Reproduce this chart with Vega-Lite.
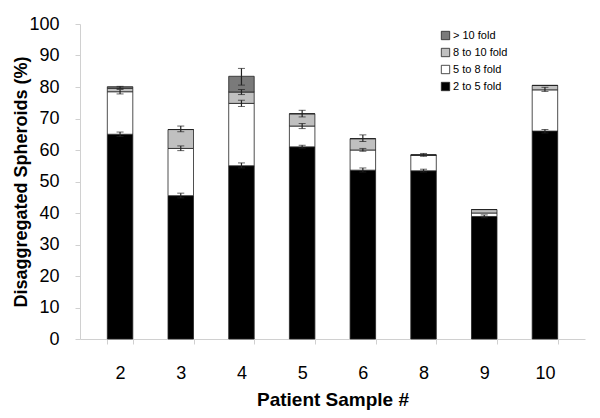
{
  "$schema": "https://vega.github.io/schema/vega-lite/v6.json",
  "width": 505,
  "height": 315,
  "autosize": {"type": "none"},
  "padding": {"left": 80, "top": 24, "right": 15, "bottom": 79},
  "background": "white",
  "config": {
    "view": {"stroke": null},
    "font": "Liberation Sans",
    "axisY": {
      "titleFontSize": 18,
      "titleFontWeight": "bold",
      "titleColor": "black",
      "titlePadding": -2,
      "labelFontSize": 18,
      "labelColor": "black",
      "labelPadding": 16,
      "labelOverlap": false,
      "values": [0, 10, 20, 30, 40, 50, 60, 70, 80, 90, 100],
      "grid": false,
      "domainColor": "#d0d0d0",
      "tickColor": "#d0d0d0",
      "tickSize": 5
    }
  },
  "datasets": {
    "bars": [
      {"patient": "2", "fold": "2 to 5 fold", "value": 65},
      {"patient": "2", "fold": "5 to 8 fold", "value": 13.5},
      {"patient": "2", "fold": "8 to 10 fold", "value": 1.1},
      {"patient": "2", "fold": "> 10 fold", "value": 0.5},
      {"patient": "3", "fold": "2 to 5 fold", "value": 45.5},
      {"patient": "3", "fold": "5 to 8 fold", "value": 15},
      {"patient": "3", "fold": "8 to 10 fold", "value": 6},
      {"patient": "3", "fold": "> 10 fold", "value": 0},
      {"patient": "4", "fold": "2 to 5 fold", "value": 55},
      {"patient": "4", "fold": "5 to 8 fold", "value": 19.8},
      {"patient": "4", "fold": "8 to 10 fold", "value": 3.6},
      {"patient": "4", "fold": "> 10 fold", "value": 5},
      {"patient": "5", "fold": "2 to 5 fold", "value": 61},
      {"patient": "5", "fold": "5 to 8 fold", "value": 6.6},
      {"patient": "5", "fold": "8 to 10 fold", "value": 3.9},
      {"patient": "5", "fold": "> 10 fold", "value": 0},
      {"patient": "6", "fold": "2 to 5 fold", "value": 53.6},
      {"patient": "6", "fold": "5 to 8 fold", "value": 6.4},
      {"patient": "6", "fold": "8 to 10 fold", "value": 3.6},
      {"patient": "6", "fold": "> 10 fold", "value": 0},
      {"patient": "8", "fold": "2 to 5 fold", "value": 53.4},
      {"patient": "8", "fold": "5 to 8 fold", "value": 5},
      {"patient": "8", "fold": "8 to 10 fold", "value": 0},
      {"patient": "8", "fold": "> 10 fold", "value": 0},
      {"patient": "9", "fold": "2 to 5 fold", "value": 38.9},
      {"patient": "9", "fold": "5 to 8 fold", "value": 1.1},
      {"patient": "9", "fold": "8 to 10 fold", "value": 1.1},
      {"patient": "9", "fold": "> 10 fold", "value": 0},
      {"patient": "10", "fold": "2 to 5 fold", "value": 66},
      {"patient": "10", "fold": "5 to 8 fold", "value": 13.1},
      {"patient": "10", "fold": "8 to 10 fold", "value": 1.4},
      {"patient": "10", "fold": "> 10 fold", "value": 0}
    ],
    "errors": [
      {"patient": "2", "lo": 64.3, "hi": 65.7},
      {"patient": "2", "lo": 77.8, "hi": 79.2},
      {"patient": "2", "lo": 79.6, "hi": 80.2},
      {"patient": "3", "lo": 44.8, "hi": 46.3},
      {"patient": "3", "lo": 59.8, "hi": 61.3},
      {"patient": "3", "lo": 65.8, "hi": 67.6},
      {"patient": "4", "lo": 54.3, "hi": 55.9},
      {"patient": "4", "lo": 73.8, "hi": 75.8},
      {"patient": "4", "lo": 77.6, "hi": 79.2},
      {"patient": "4", "lo": 80.6, "hi": 85.9},
      {"patient": "5", "lo": 60.6, "hi": 61.5},
      {"patient": "5", "lo": 66.8, "hi": 68.4},
      {"patient": "5", "lo": 70.5, "hi": 72.6},
      {"patient": "6", "lo": 53, "hi": 54.3},
      {"patient": "6", "lo": 59.6, "hi": 60.5},
      {"patient": "6", "lo": 62.7, "hi": 64.8},
      {"patient": "8", "lo": 53, "hi": 53.9},
      {"patient": "8", "lo": 58, "hi": 58.9},
      {"patient": "9", "lo": 38.5, "hi": 39.4},
      {"patient": "10", "lo": 65.4, "hi": 66.5},
      {"patient": "10", "lo": 78.6, "hi": 79.9}
    ]
  },
  "encoding": {
    "x": {
      "field": "patient",
      "type": "ordinal",
      "sort": ["2", "3", "4", "5", "6", "8", "9", "10"],
      "scale": {"paddingInner": 0.58, "paddingOuter": 0.45},
      "axis": {
        "title": "Patient Sample #",
        "titleFontSize": 19,
        "titleFontWeight": "bold",
        "titleColor": "black",
        "titlePadding": 8,
        "labelFontSize": 18,
        "labelColor": "black",
        "labelAngle": 0,
        "labelPadding": 20,
        "domainColor": "#d0d0d0",
        "tickColor": "#d0d0d0",
        "tickBand": "extent",
        "tickSize": 5
      }
    }
  },
  "layer": [
    {
      "data": {"name": "bars"},
      "mark": {"type": "bar", "stroke": "#222", "strokeWidth": 0.8},
      "encoding": {
        "y": {
          "field": "value",
          "type": "quantitative",
          "stack": "zero",
          "title": "Disaggregated Spheroids (%)",
          "scale": {"domain": [0, 100], "nice": false}
        },
        "color": {
          "field": "fold",
          "type": "nominal",
          "scale": {
            "domain": ["> 10 fold", "8 to 10 fold", "5 to 8 fold", "2 to 5 fold"],
            "range": ["#7a7a7a", "#c0c0c0", "#ffffff", "#000000"]
          },
          "legend": {
            "title": null,
            "orient": "none",
            "legendX": 360,
            "legendY": 6,
            "labelFontSize": 11,
            "labelColor": "black",
            "symbolType": "square",
            "symbolSize": 70,
            "symbolStrokeColor": "#222",
            "symbolStrokeWidth": 0.8,
            "labelOffset": 2,
            "rowPadding": 4
          }
        },
        "order": {"field": "fold", "sort": "ascending"}
      }
    },
    {
      "data": {"name": "errors"},
      "mark": {"type": "errorbar", "ticks": {"size": 7, "color": "#222"}, "rule": {"color": "#222", "strokeWidth": 1.2}},
      "encoding": {
        "y": {"field": "lo", "type": "quantitative", "title": "Disaggregated Spheroids (%)", "scale": {"domain": [0, 100], "nice": false}},
        "y2": {"field": "hi"}
      }
    }
  ]
}
